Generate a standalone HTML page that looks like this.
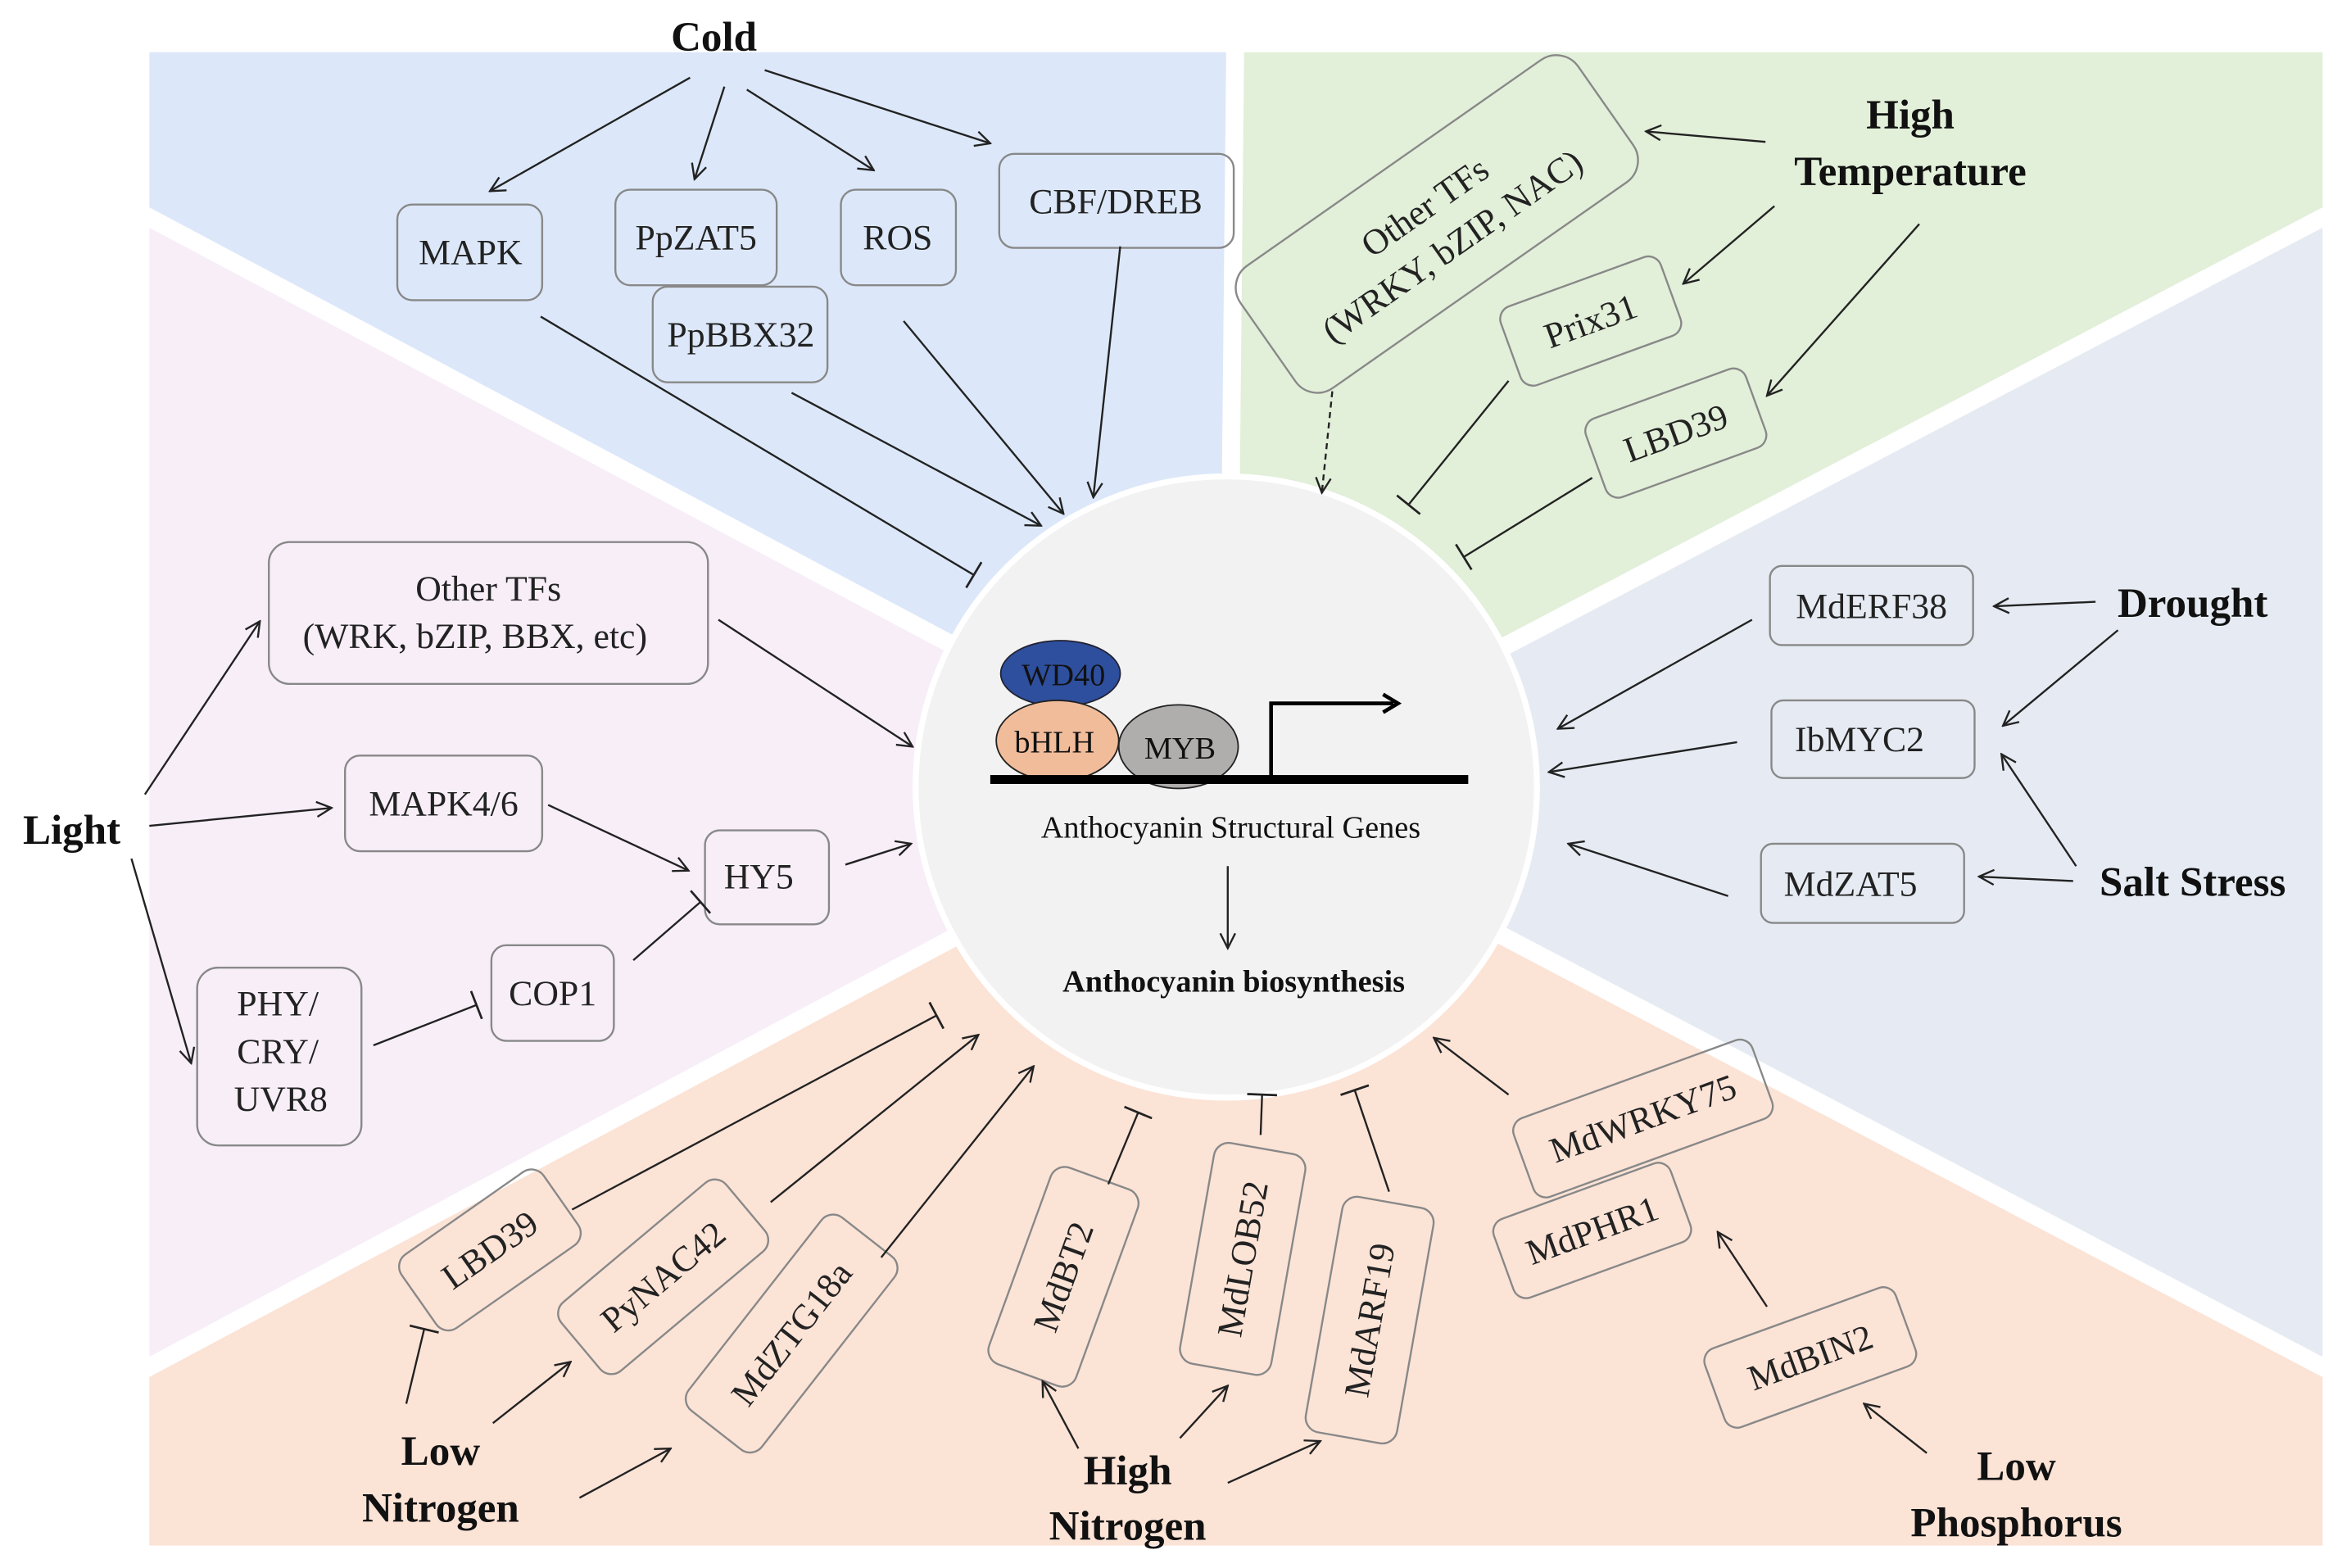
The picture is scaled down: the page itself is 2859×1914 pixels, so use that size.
<!DOCTYPE html>
<html><head><meta charset="utf-8"><style>html,body{margin:0;padding:0;background:#fff}svg{display:block}</style></head>
<body>
<svg width="2859" height="1914" viewBox="0 0 1568 1050" preserveAspectRatio="none" xmlns="http://www.w3.org/2000/svg" style="font-family:'Liberation Serif',serif">
<defs>
<marker id="a" viewBox="0 0 12 12" refX="11" refY="6" markerWidth="12" markerHeight="12" markerUnits="userSpaceOnUse" orient="auto"><path d="M1,1 L11,6 L1,11" fill="none" stroke="#222" stroke-width="1.3"/></marker>
<marker id="b" viewBox="0 0 4 20" refX="2" refY="10" markerWidth="4" markerHeight="20" markerUnits="userSpaceOnUse" orient="auto"><line x1="2" y1="0" x2="2" y2="20" stroke="#222" stroke-width="1.5"/></marker>
</defs>
<rect width="1568" height="1050" fill="#fff"/>
<polygon points="100,35 822,35 822,530 100,140" fill="#dce8f9"/>
<polygon points="832,35 1555,35 1555,140 822,530" fill="#e2efd9"/>
<polygon points="1555,145 1555,915 822,530" fill="#e6ebf3"/>
<polygon points="100,145 100,915 822,530" fill="#f7eef8"/>
<polygon points="100,920 100,1035 1555,1035 1555,920 822,530" fill="#fbe3d6"/>
<g stroke="#fff" stroke-width="12">
<line x1="822" y1="530" x2="827" y2="30"/>
<line x1="822" y1="530" x2="95" y2="143"/>
<line x1="822" y1="530" x2="1560" y2="143"/>
<line x1="822" y1="530" x2="95" y2="918"/>
<line x1="822" y1="530" x2="1560" y2="918"/>
</g>
<circle cx="821" cy="527" r="208" fill="#f2f2f2" stroke="#fff" stroke-width="4"/>

<g fill="none" stroke="#888" stroke-width="1.3">
<rect x="266" y="137" width="97" height="64" rx="10"/>
<rect x="412" y="127" width="108" height="64" rx="10"/>
<rect x="563" y="127" width="77" height="64" rx="10"/>
<rect x="669" y="103" width="157" height="63" rx="10"/>
<rect x="437" y="192" width="117" height="64" rx="10"/>
<rect x="1185" y="379" width="136" height="53" rx="8"/>
<rect x="1186" y="469" width="136" height="52" rx="8"/>
<rect x="1179" y="565" width="136" height="53" rx="8"/>
<rect x="180" y="363" width="294" height="95" rx="14"/>
<rect x="231" y="506" width="132" height="64" rx="10"/>
<rect x="472" y="556" width="83" height="63" rx="10"/>
<rect x="329" y="633" width="82" height="64" rx="10"/>
<rect x="132" y="648" width="110" height="119" rx="14"/>
</g>

<g font-size="24" fill="#222" text-anchor="middle">
<text x="315" y="177">MAPK</text>
<text x="466" y="167">PpZAT5</text>
<text x="601" y="167">ROS</text>
<text x="747" y="143">CBF/DREB</text>
<text x="496" y="232">PpBBX32</text>
<text x="1253" y="414">MdERF38</text>
<text x="1245" y="503">IbMYC2</text>
<text x="1239" y="600">MdZAT5</text>
<text x="327" y="402">Other TFs</text>
<text x="318" y="434">(WRK, bZIP, BBX, etc)</text>
<text x="297" y="546">MAPK4/6</text>
<text x="508" y="595">HY5</text>
<text x="370" y="673">COP1</text>
<text x="186" y="680">PHY/</text>
<text x="186" y="712">CRY/</text>
<text x="188" y="744">UVR8</text>
</g>

<g font-size="24" fill="#222" text-anchor="middle">
<g transform="translate(962,150) rotate(-35)"><rect x="-138" y="-50" width="276" height="100" rx="18" fill="none" stroke="#888" stroke-width="1.3"/><text y="-6">Other TFs</text><text y="26">(WRKY, bZIP, NAC)</text></g>
<g transform="translate(1065,215) rotate(-20)"><rect x="-57" y="-28" width="114" height="56" rx="9" fill="none" stroke="#888" stroke-width="1.3"/><text y="8">Prix31</text></g>
<g transform="translate(1122,290) rotate(-20)"><rect x="-57" y="-28" width="114" height="56" rx="9" fill="none" stroke="#888" stroke-width="1.3"/><text y="8">LBD39</text></g>
<g transform="translate(328,837) rotate(-35)"><rect x="-58" y="-30" width="116" height="60" rx="10" fill="none" stroke="#888" stroke-width="1.3"/><text y="8">LBD39</text></g>
<g transform="translate(444,855) rotate(-40)"><rect x="-72" y="-30" width="144" height="60" rx="10" fill="none" stroke="#888" stroke-width="1.3"/><text y="8">PyNAC42</text></g>
<g transform="translate(530,893) rotate(-52)"><rect x="-82" y="-31" width="164" height="62" rx="10" fill="none" stroke="#888" stroke-width="1.3"/><text y="8">MdZTG18a</text></g>
<g transform="translate(712,855) rotate(-70)"><rect x="-70" y="-31" width="140" height="62" rx="10" fill="none" stroke="#888" stroke-width="1.3"/><text y="8">MdBT2</text></g>
<g transform="translate(832,843) rotate(-80)"><rect x="-75" y="-31" width="150" height="62" rx="10" fill="none" stroke="#888" stroke-width="1.3"/><text y="8">MdLOB52</text></g>
<g transform="translate(917,884) rotate(-80)"><rect x="-80" y="-31" width="160" height="62" rx="10" fill="none" stroke="#888" stroke-width="1.3"/><text y="8">MdARF19</text></g>
<g transform="translate(1100,749) rotate(-20)"><rect x="-85" y="-28" width="170" height="56" rx="9" fill="none" stroke="#888" stroke-width="1.3"/><text y="8">MdWRKY75</text></g>
<g transform="translate(1066,824) rotate(-20)"><rect x="-63" y="-28" width="126" height="56" rx="9" fill="none" stroke="#888" stroke-width="1.3"/><text y="8">MdPHR1</text></g>
<g transform="translate(1212,909) rotate(-20)"><rect x="-68" y="-28" width="136" height="56" rx="9" fill="none" stroke="#888" stroke-width="1.3"/><text y="8">MdBIN2</text></g>
</g>

<g font-size="28" font-weight="bold" fill="#111" text-anchor="middle">
<text x="478" y="34">Cold</text>
<text x="1279" y="86">High</text>
<text x="1279" y="124">Temperature</text>
<text x="1468" y="413">Drought</text>
<text x="1468" y="600">Salt Stress</text>
<text x="48" y="565">Light</text>
<text x="295" y="981">Low</text>
<text x="295" y="1019">Nitrogen</text>
<text x="755" y="994">High</text>
<text x="755" y="1031">Nitrogen</text>
<text x="1350" y="991">Low</text>
<text x="1350" y="1029">Phosphorus</text>
</g>

<g stroke="#222" stroke-width="1.3" fill="none">
<g marker-end="url(#a)">
<line x1="462" y1="52" x2="328" y2="128"/>
<line x1="485" y1="58" x2="465" y2="120"/>
<line x1="500" y1="60" x2="585" y2="114"/>
<line x1="512" y1="47" x2="663" y2="96"/>
<line x1="530" y1="263" x2="697" y2="352"/>
<line x1="605" y1="215" x2="712" y2="344"/>
<line x1="750" y1="165" x2="732" y2="333"/>
<line x1="1182" y1="95" x2="1102" y2="88"/>
<line x1="1188" y1="138" x2="1127" y2="190"/>
<line x1="1285" y1="150" x2="1183" y2="265"/>
<line x1="892" y1="262" x2="885" y2="330" stroke-dasharray="4,3"/>
<line x1="1403" y1="403" x2="1335" y2="406"/>
<line x1="1418" y1="422" x2="1341" y2="486"/>
<line x1="1390" y1="580" x2="1340" y2="505"/>
<line x1="1388" y1="590" x2="1325" y2="587"/>
<line x1="1173" y1="415" x2="1043" y2="488"/>
<line x1="1163" y1="497" x2="1037" y2="517"/>
<line x1="1157" y1="600" x2="1050" y2="565"/>
<line x1="97" y1="532" x2="174" y2="416"/>
<line x1="100" y1="553" x2="222" y2="541"/>
<line x1="88" y1="575" x2="128" y2="712"/>
<line x1="481" y1="415" x2="611" y2="500"/>
<line x1="367" y1="539" x2="461" y2="583"/>
<line x1="566" y1="579" x2="610" y2="565"/>
<line x1="516" y1="805" x2="655" y2="693"/>
<line x1="590" y1="842" x2="692" y2="714"/>
<line x1="1010" y1="733" x2="960" y2="695"/>
<line x1="1183" y1="875" x2="1150" y2="825"/>
<line x1="1290" y1="973" x2="1248" y2="940"/>
<line x1="330" y1="953" x2="382" y2="912"/>
<line x1="388" y1="1003" x2="449" y2="970"/>
<line x1="722" y1="970" x2="698" y2="925"/>
<line x1="790" y1="963" x2="822" y2="928"/>
<line x1="822" y1="993" x2="884" y2="965"/>
<line x1="822" y1="580" x2="822" y2="635"/>
</g>
<g marker-end="url(#b)">
<line x1="362" y1="212" x2="652" y2="385"/>
<line x1="1010" y1="255" x2="943" y2="338"/>
<line x1="1066" y1="320" x2="980" y2="373"/>
<line x1="250" y1="700" x2="319" y2="673"/>
<line x1="424" y1="643" x2="469" y2="604"/>
<line x1="383" y1="810" x2="627" y2="680"/>
<line x1="742" y1="793" x2="762" y2="745"/>
<line x1="844" y1="760" x2="845" y2="733"/>
<line x1="930" y1="798" x2="907" y2="730"/>
<line x1="272" y1="940" x2="284" y2="890"/>
</g>
</g>

<ellipse cx="710" cy="451" rx="40" ry="22" fill="#2e4f9e" stroke="#223" stroke-width="1"/>
<ellipse cx="708" cy="496" rx="41" ry="27" fill="#f1bc9a" stroke="#222" stroke-width="1"/>
<ellipse cx="789" cy="500" rx="40" ry="28" fill="#b0adad" stroke="#222" stroke-width="1"/>
<rect x="663" y="519" width="320" height="6" fill="#000"/>
<path d="M851,520 V471 H933" fill="none" stroke="#000" stroke-width="2.5"/>
<path d="M926,465 L936,471 L926,477" fill="none" stroke="#000" stroke-width="2.5"/>
<g font-size="21" fill="#111" text-anchor="middle">
<text x="712" y="459">WD40</text>
<text x="706" y="504">bHLH</text>
<text x="790" y="508">MYB</text>
<text x="824" y="561">Anthocyanin Structural Genes</text>
<text x="826" y="664" font-weight="bold">Anthocyanin biosynthesis</text>
</g>
</svg>
</body></html>
